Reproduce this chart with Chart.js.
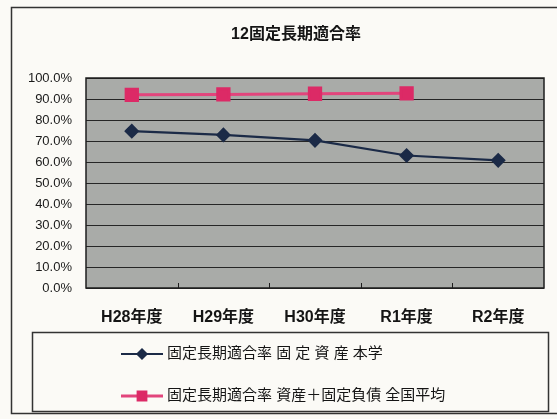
<!DOCTYPE html>
<html>
<head>
<meta charset="utf-8">
<script src="https://cdn.jsdelivr.net/npm/chart.js@4"></script>
<style>
  body { margin: 0; background: #fbfaf6; }
  canvas { display: block; }
</style>
</head>
<body>
<canvas id="chart" width="557" height="419"></canvas>
<script>
// データ
const years = ['H28年度', 'H29年度', 'H30年度', 'R1年度', 'R2年度'];
const honGaku = [74.7, 72.9, 70.3, 63.1, 60.8];
const zenkoku = [92.0, 92.2, 92.5, 92.7, null];
const seriesNames = ['固定長期適合率 固 定 資 産 本学', '固定長期適合率 資産＋固定負債 全国平均'];
const chartTitle = '12固定長期適合率';

const FONT = "'Liberation Sans', Arial, 'Noto Sans CJK JP', sans-serif";

// 枠・背景・タイトル・凡例を描くプラグイン
const framePlugin = {
    id: 'frame',
    beforeDraw(chart) {
        const { ctx, chartArea: a } = chart;
        ctx.save();
        ctx.fillStyle = '#a9aba8';
        ctx.fillRect(a.left, a.top, a.right - a.left, a.bottom - a.top);
        ctx.restore();
    },
    afterDraw(chart) {
        const { ctx, chartArea: a } = chart;
        const xs = chart.scales.x;
        ctx.save();
        // プロットエリアの枠
        ctx.strokeStyle = '#1e1e1e';
        ctx.lineWidth = 1.5;
        ctx.strokeRect(a.left, a.top, a.right - a.left, a.bottom - a.top);
        // 目盛り
        ctx.lineWidth = 1;
        for (let i = 1; i < years.length; i++) {
            const x = Math.round((xs.getPixelForTick(i - 1) + xs.getPixelForTick(i)) / 2) + 0.5;
            ctx.beginPath();
            ctx.moveTo(x, a.bottom);
            ctx.lineTo(x, a.bottom - 5);
            ctx.stroke();
        }
        // 外枠
        ctx.strokeStyle = '#333';
        ctx.lineWidth = 1.5;
        ctx.strokeRect(11.5, 7.5, 560, 406);
        // タイトル
        ctx.fillStyle = '#151515';
        ctx.font = 'bold 16px ' + FONT;
        ctx.textAlign = 'center';
        ctx.textBaseline = 'middle';
        ctx.fillText(chartTitle, 296, 35);
        // 凡例
        ctx.strokeStyle = '#333';
        ctx.lineWidth = 1.5;
        ctx.strokeRect(32.5, 332.5, 516, 79);
        const rows = [354, 396];
        chart.data.datasets.forEach((ds, i) => {
            const y = rows[i];
            ctx.strokeStyle = ds.borderColor;
            ctx.lineWidth = ds.borderWidth;
            ctx.beginPath();
            ctx.moveTo(121, y);
            ctx.lineTo(163, y);
            ctx.stroke();
            ctx.fillStyle = ds.pointBackgroundColor;
            ctx.strokeStyle = ds.pointBackgroundColor;
            Chart.helpers.drawPoint(ctx, {
                pointStyle: ds.pointStyle,
                radius: ds.pointStyle === 'rect' ? 5.5 : 4.5,
                rotation: 0,
                borderWidth: 1
            }, 142, y);
            ctx.fillStyle = '#151515';
            ctx.font = '15px ' + FONT;
            ctx.textBaseline = 'middle';
            ctx.textAlign = 'left';
            ctx.fillText(ds.label, 167, y);
        });
        ctx.restore();
    }
};

new Chart(document.getElementById('chart'), {
    type: 'line',
    data: {
        labels: years,
        datasets: [{
            label: seriesNames[0],
            data: honGaku,
            borderColor: '#1b2a47',
            pointBackgroundColor: '#1b2a47',
            pointBorderColor: '#1b2a47',
            borderWidth: 2.2,
            pointStyle: 'rectRot',
            pointRadius: 6,
            tension: 0
        }, {
            label: seriesNames[1],
            data: zenkoku,
            borderColor: '#e2457c',
            pointBackgroundColor: '#dc2a66',
            pointBorderColor: '#dc2a66',
            borderWidth: 3,
            pointStyle: 'rect',
            pointRadius: 8,
            tension: 0
        }]
    },
    options: {
        responsive: false,
        animation: false,
        layout: { padding: { left: 0, right: 13, top: 78, bottom: 0 } },
        plugins: {
            legend: { display: false },
            tooltip: { enabled: false },
            title: { display: false }
        },
        scales: {
            x: {
                offset: true,
                grid: { display: false },
                border: { display: false },
                ticks: {
                    color: '#151515',
                    padding: 12,
                    maxRotation: 0,
                    font: { family: FONT, size: 16, weight: 'bold' }
                },
                afterFit(scale) { scale.height = 131; }
            },
            y: {
                min: 0,
                max: 100,
                grid: { color: '#262626', lineWidth: 1, drawTicks: false },
                border: { display: false },
                ticks: {
                    stepSize: 10,
                    padding: 14,
                    color: '#1a1a1a',
                    font: { family: FONT, size: 13 },
                    callback: v => v.toFixed(1) + '%'
                },
                afterFit(scale) { scale.width = 86; }
            }
        }
    },
    plugins: [framePlugin]
});
</script>
</body>
</html>
